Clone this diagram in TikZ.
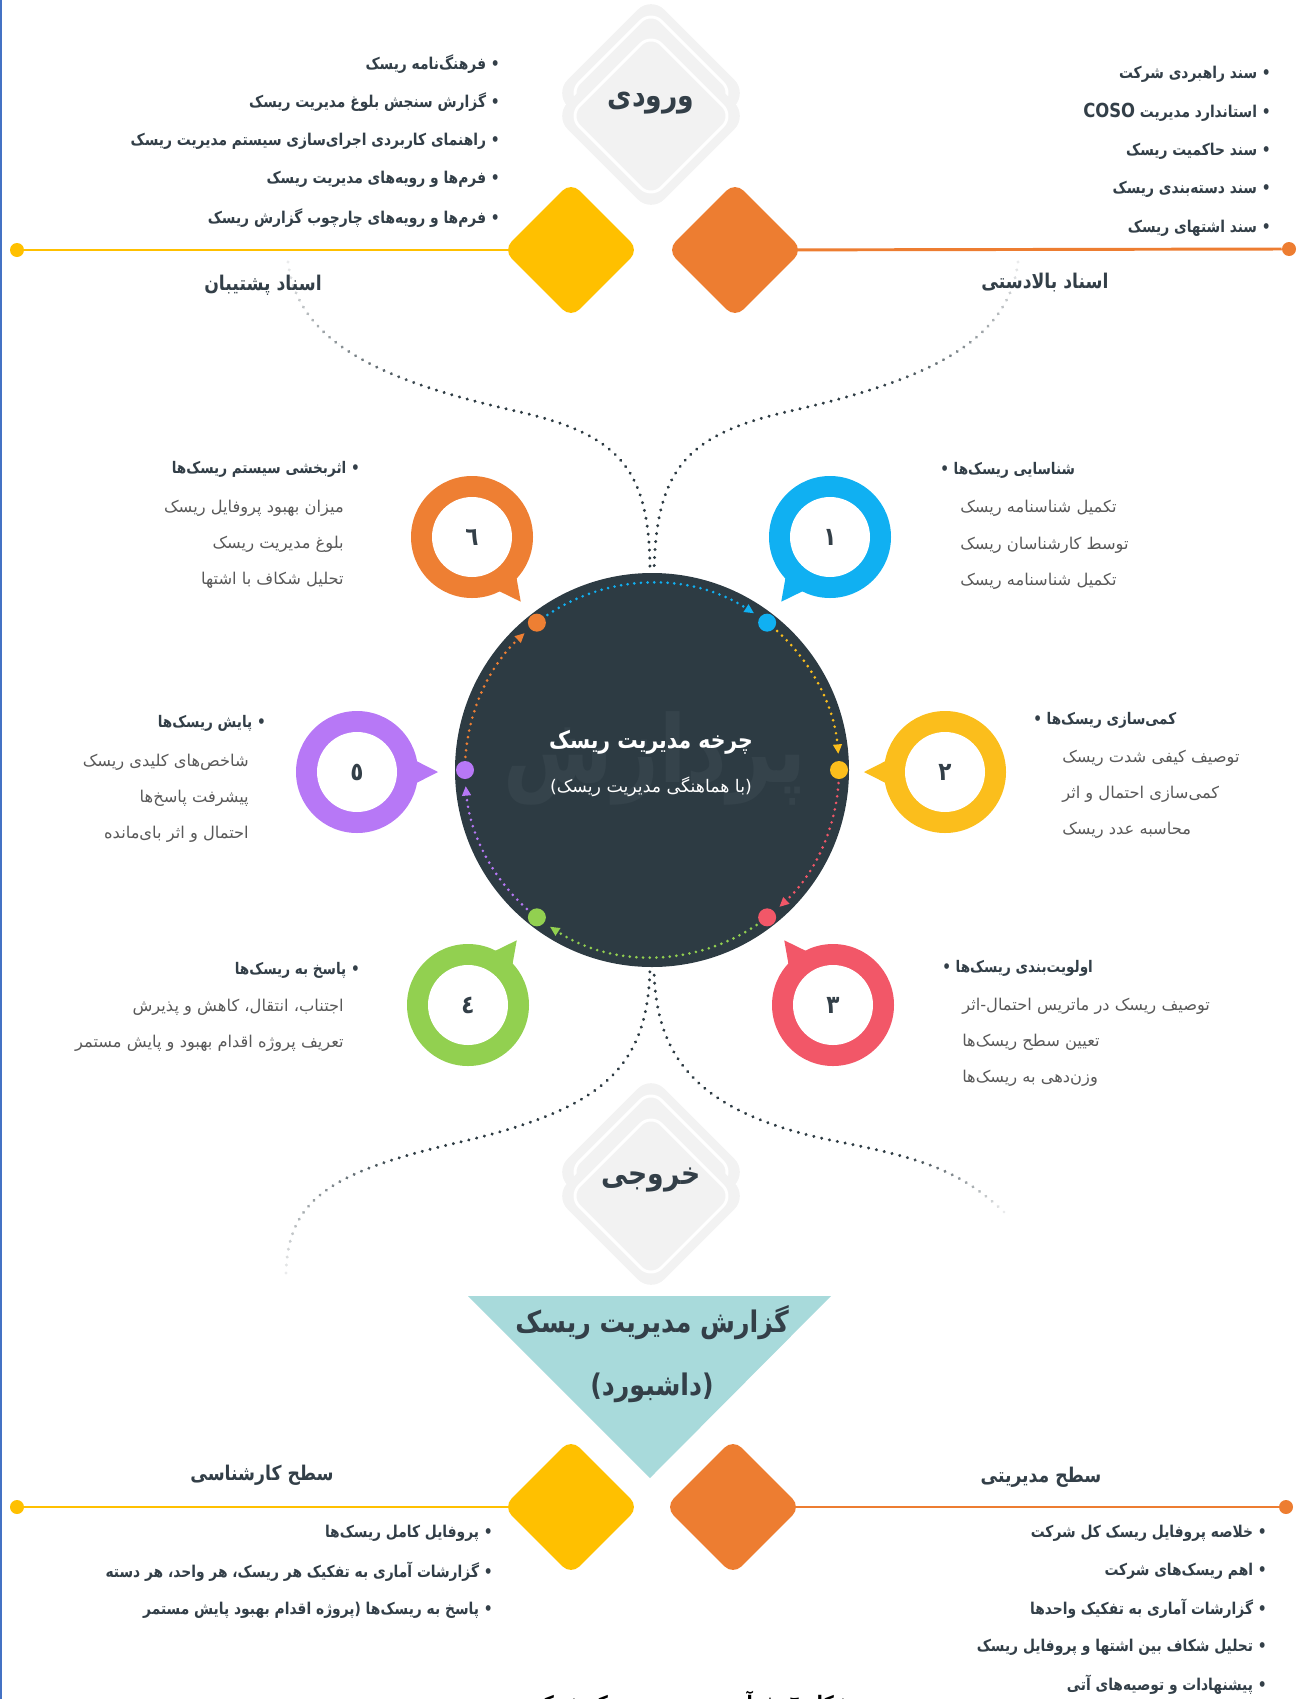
\documentclass[tikz,border=0pt]{standalone}
\usepackage{fontspec}
\newfontfamily\fa[Script=Arabic]{DejaVu Sans}
\newfontfamily\fab[Script=Arabic,FakeStretch=0.85]{DejaVu Sans}
\TeXXeTstate=1
\usetikzlibrary{arrows.meta,calc,shapes.geometric,backgrounds,decorations.markings}

\definecolor{slate}{HTML}{2D3B43}
\definecolor{wmark}{HTML}{35434B}
\definecolor{txt}{HTML}{333F48}
\definecolor{subtxt}{HTML}{595959}
\definecolor{gold}{HTML}{FFC000}
\definecolor{tang}{HTML}{ED7D31}
\definecolor{cblue}{HTML}{10B0F2}
\definecolor{cyel}{HTML}{FBBE1C}
\definecolor{cred}{HTML}{F25768}
\definecolor{cgreen}{HTML}{92D050}
\definecolor{cpurp}{HTML}{B778F6}
\definecolor{corng}{HTML}{EE7F33}
\definecolor{pale}{HTML}{F2F2F2}
\definecolor{tealbox}{HTML}{A8DADB}
\definecolor{pageblue}{HTML}{4472C4}

\newcommand{\fr}[1]{\beginR #1\endR}
\newcommand{\nimfas}{^^^^200c}

\tikzset{
  lst/.style={inner sep=0pt,text=txt,font=\fab\bfseries\fontsize{12.2}{15}\selectfont},
  hd/.style={inner sep=0pt,text=txt,font=\fab\bfseries\fontsize{12}{15}\selectfont},
  sub/.style={inner sep=0pt,text=subtxt,font=\fa\fontsize{12.2}{15}\selectfont},
  lbl/.style={inner sep=0pt,text=txt,font=\fab\bfseries\fontsize{15.2}{18}\selectfont},
  io/.style={inner sep=0pt,text=txt,font=\fab\bfseries\fontsize{23.5}{26}\selectfont},
  tag/.style={diamond,inner sep=0pt,minimum size=102pt,rounded corners=9pt},
  grayback/.style={diamond,inner sep=0pt,minimum size=145pt,rounded corners=14pt,fill=pale},
  grayline/.style={diamond,inner sep=0pt,minimum size=124pt,rounded corners=11pt,draw=white,line width=2.2pt},
  enddot/.style={circle,inner sep=0pt,minimum size=10.5pt},
  cycdot/.style={circle,inner sep=0pt,minimum size=13.5pt},
  num/.style={inner sep=0pt,text=txt,font=\fab\bfseries\fontsize{19}{21}\selectfont},
  fadedots/.style={decorate,decoration={markings,
    mark=between positions 0 and 1 step 6pt with {
      \pgfmathsetmacro\dfr{\pgfkeysvalueof{/pgf/decoration/mark info/distance from start}/\pgfdecoratedpathlength}
      \pgfmathsetmacro\dfade{min(100,10+90*\dfr/#1)}
      \fill[slate!\dfade!white] (0,0) circle (1.25pt);}}},
  fadedots/.default=0.4
}

\begin{document}
\begin{tikzpicture}[x=0.75pt,y=-0.75pt]
\useasboundingbox (0,0) rectangle (1303,1699);
\clip (0,0) rectangle (1303,1699);
\draw[pageblue,line width=1.2pt] (0.8,0) -- (0.8,1699);

% input
\node[grayback] (inA) at (651,93) {};
\node[grayline] (inAl) at (651,93) {};
\node[grayback] (inB) at (651,116) {};
\node[grayline] (inBl) at (651,116) {};
\node[io] (inp) at (651,103) {\fr{ورودی}};

\node[tag,fill=gold] (dgT) at (571,250) {};
\node[tag,fill=tang] (doT) at (735,250) {};
\node[enddot,fill=gold] (egT) at (17,250) {};
\node[enddot,fill=tang] (eoT) at (1289,249) {};
\begin{scope}[on background layer]
\draw[gold,line width=2.2pt] (egT) -- (dgT.center);
\draw[tang,line width=2.2pt] (eoT) -- (doT.center);
\end{scope}

\foreach \t [count=\i from 0] in {{فرهنگ\nimfas نامه ریسک},{گزارش سنجش بلوغ مدیریت ریسک},{راهنمای کاربردی اجرای\nimfas سازی سیستم مدیریت ریسک},{فرم\nimfas ها و رویه\nimfas های مدیریت ریسک},{فرم\nimfas ها و رویه\nimfas های چارچوب گزارش ریسک}}
  \node[lst,anchor=east] (sup\i) at (500,64+38.5*\i) {\fr{• \t}};
\foreach \t [count=\i from 0] in {{سند راهبردی شرکت},{استاندارد مدیریت \beginL{\fontsize{14.5}{15}\selectfont COSO}\endL},{سند حاکمیت ریسک},{سند دسته\nimfas بندی ریسک},{سند اشتهای ریسک}}
  \node[lst,anchor=east] (ups\i) at (1271,74+38.5*\i) {\fr{• \t}};

\coordinate (topL) at (288,262);
\coordinate (topR) at (1018,262);
\coordinate (botL) at (286,1273);
\coordinate (botR) at (1004,1212);

% cycle
\node[circle,fill=slate,inner sep=0pt,minimum size=295.5pt] (cyc) at (652,770) {};
\node[text=wmark,font=\fab\bfseries\fontsize{70}{80}\selectfont,inner sep=0pt] (wm) at (655,758) {\fr{پردازش}};
\node[text=white,font=\fab\bfseries\fontsize{18}{22}\selectfont,inner sep=0pt] (ttl) at (651,742) {\fr{چرخه مدیریت ریسک}};
\node[text=white,font=\fa\fontsize{13}{16}\selectfont,inner sep=0pt] (sttl) at (651,787) {\fr{(با هماهنگی مدیریت ریسک)}};

\path[fadedots=0.38] (topL) .. controls (298,350) and (400,385) .. (520,412) .. controls (620,435) and (650,470) .. ([xshift=-1.5pt]cyc.north);
\path[fadedots=0.38] (topR) .. controls (1008,350) and (906,385) .. (786,412) .. controls (686,435) and (656,470) .. ([xshift=1.5pt]cyc.north);
\path[fadedots=0.35] (botL) .. controls (288,1200) and (330,1172) .. (456,1143) .. controls (600,1110) and (648,1070) .. ([xshift=-1.5pt]cyc.south);
\path[fadedots=0.25] (botR) .. controls (960,1170) and (920,1158) .. (840,1142) .. controls (700,1115) and (655,1060) .. ([xshift=1.5pt]cyc.south);

\foreach \c/\s/\e in {cblue/-124/-57,cyel/-48/-5,cred/4/47,cgreen/56/123,cpurp/132/175,corng/184/227}
  \draw[\c,line width=2.2pt,line cap=round,dash pattern=on 0pt off 5pt,-{Triangle[length=7pt,width=7pt,line width=0pt]}]
    ($(cyc)+(\s:187)$) arc[start angle=\s,end angle=\e,radius=187];
\foreach \c/\a [count=\i] in {cblue/-52,cyel/0,cred/52,cgreen/128,cpurp/180,corng/232}
  \node[cycdot,fill=\c] (d\i) at ($(cyc)+(\a:187)$) {};

% steps
\foreach \c/\x/\y/\a/\n [count=\i] in {cblue/830/537/127/١,cyel/945/772/180/٢,cred/833/1005/233/٣,cgreen/468/1005/-53/٤,cpurp/357/772/0/٥,corng/472/537/53/٦}{
  \coordinate (r\i) at (\x,\y);
  \fill[\c] (r\i) circle (61);
  \fill[\c] ($(r\i)+(\a-14:56)$) -- ($(r\i)+(\a:81)$) -- ($(r\i)+(\a+14:56)$) -- cycle;
  \fill[white] (r\i) circle (40);
  \node[num] (n\i) at (r\i) {\n};
}

\node[hd,anchor=west] (h1) at (940,470) {\fr{شناسایی ریسک\nimfas ها •}};
\foreach \t [count=\i from 1] in {{تکمیل شناسنامه ریسک},{توسط کارشناسان ریسک},{تکمیل شناسنامه ریسک}}
  \node[sub,anchor=west] (s1\i) at (960,472+36.5*\i) {\fr{\t}};
\node[hd,anchor=west] (h2) at (1033,720) {\fr{کمی\nimfas سازی ریسک\nimfas ها •}};
\foreach \t [count=\i from 1] in {{توصیف کیفی شدت ریسک},{کمی\nimfas سازی احتمال و اثر},{محاسبه عدد ریسک}}
  \node[sub,anchor=west] (s2\i) at (1062,722+36*\i) {\fr{\t}};
\node[hd,anchor=west] (h3) at (942,968) {\fr{اولویت\nimfas بندی ریسک\nimfas ها •}};
\foreach \t [count=\i from 1] in {{توصیف ریسک در ماتریس احتمال-اثر},{تعیین سطح ریسک\nimfas ها},{وزن\nimfas دهی به ریسک\nimfas ها}}
  \node[sub,anchor=west] (s3\i) at (962,970+36*\i) {\fr{\t}};

\node[hd,anchor=east] (h6) at (360,469) {\fr{• اثربخشی سیستم ریسک\nimfas ها}};
\foreach \t [count=\i from 1] in {{میزان بهبود پروفایل ریسک},{بلوغ مدیریت ریسک},{تحلیل شکاف با اشتها}}
  \node[sub,anchor=east] (s6\i) at (344,472+36*\i) {\fr{\t}};
\node[hd,anchor=east] (h5) at (266,723) {\fr{• پایش ریسک\nimfas ها}};
\foreach \t [count=\i from 1] in {{شاخص\nimfas های کلیدی ریسک},{پیشرفت پاسخ\nimfas ها},{احتمال و اثر بای\nimfas مانده}}
  \node[sub,anchor=east] (s5\i) at (249,726+36*\i) {\fr{\t}};
\node[hd,anchor=east] (h4) at (360,970) {\fr{• پاسخ به ریسک\nimfas ها}};
\foreach \t [count=\i from 1] in {{اجتناب، انتقال، کاهش و پذیرش},{تعریف پروژه اقدام بهبود و پایش مستمر}}
  \node[sub,anchor=east] (s4\i) at (344,971+36*\i) {\fr{\t}};

% output
\node[grayback] (outA) at (651,1172) {};
\node[grayline] (outAl) at (651,1172) {};
\node[grayback] (outB) at (651,1196) {};
\node[grayline] (outBl) at (651,1196) {};
\node[io] (outp) at (651,1180) {\fr{خروجی}};

\fill[tealbox] (468,1296) -- (831,1296) -- (650,1478) -- cycle;
\node[text=txt,font=\fab\bfseries\fontsize{22.3}{26}\selectfont,inner sep=0pt] (dash1) at (652,1323) {\fr{گزارش مدیریت ریسک}};
\node[text=txt,font=\fab\bfseries\fontsize{22.3}{26}\selectfont,inner sep=0pt] (dash2) at (652,1388) {\fr{(داشبورد)}};

\node[tag,fill=gold] (dgB) at (571,1507) {};
\node[tag,fill=tang] (doB) at (733,1507) {};
\node[enddot,fill=gold] (egB) at (17,1507) {};
\node[enddot,fill=tang] (eoB) at (1286,1507) {};
\begin{scope}[on background layer]
\draw[gold,line width=2.2pt] (egB) -- (dgB.center);
\draw[tang,line width=2.2pt] (eoB) -- (doB.center);
\end{scope}

\node[lbl] (supT) at (263,285) {\fr{اسناد پشتیبان}};
\node[lbl] (upsT) at (1045,283) {\fr{اسناد بالادستی}};
\node[lbl] (expT) at (262,1475) {\fr{سطح کارشناسی}};
\node[lbl] (mgtT) at (1041,1477) {\fr{سطح مدیریتی}};

\foreach \t [count=\i from 0] in {{پروفایل کامل ریسک\nimfas ها},{گزارشات آماری به تفکیک هر ریسک، هر واحد، هر دسته},{پاسخ به ریسک\nimfas ها (پروژه اقدام بهبود پایش مستمر}}
  \node[lst,anchor=east] (exp\i) at (493,1533+38.5*\i) {\fr{• \t}};
\foreach \t [count=\i from 0] in {{خلاصه پروفایل ریسک کل شرکت},{اهم ریسک\nimfas های شرکت},{گزارشات آماری به تفکیک واحدها},{تحلیل شکاف بین اشتها و پروفایل ریسک},{پیشنهادات و توصیه\nimfas های آتی}}
  \node[lst,anchor=east] (mgt\i) at (1267,1533+38*\i) {\fr{• \t}};

\node[text=black,font=\fab\bfseries\fontsize{16}{20}\selectfont,inner sep=0pt,anchor=north] (cap) at (688,1691) {\fr{شکل ٦- فرآیند مدیریت ریسک شرکت}};
\end{tikzpicture}
\end{document}
